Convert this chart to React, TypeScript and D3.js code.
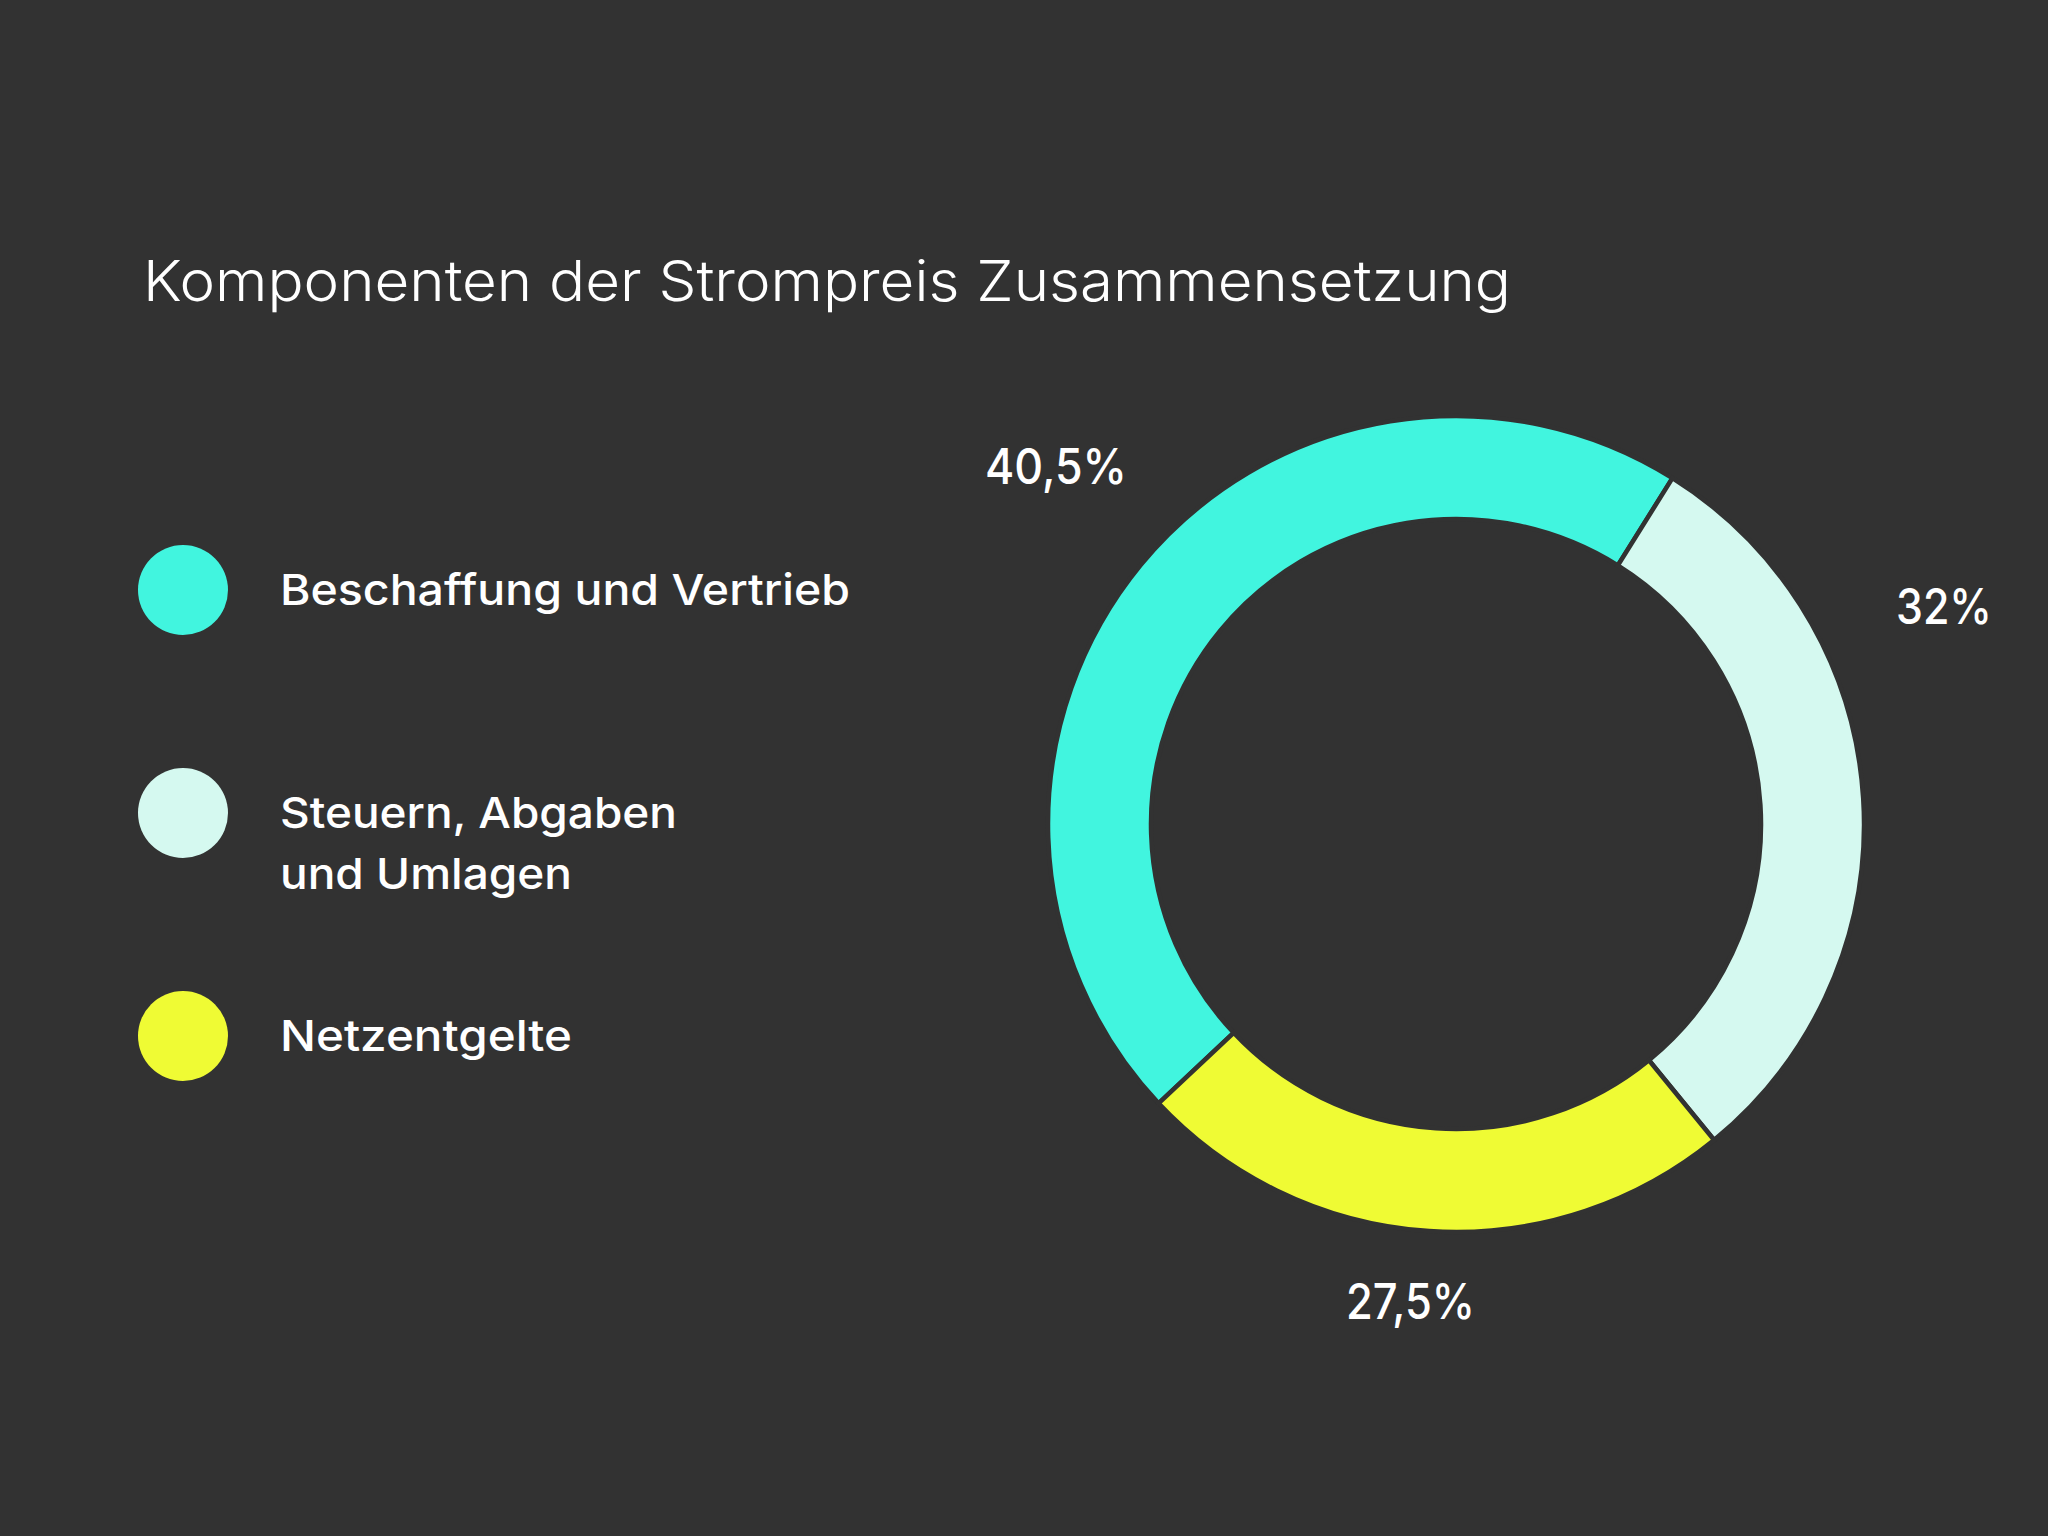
// donut chart: Komponenten der Strompreis Zusammensetzung
import * as d3 from 'd3';
import React, { useEffect, useRef } from 'react';

// legend categories (line breaks as in the original)
const categories = [
  ['Beschaffung und Vertrieb'],
  ['Steuern, Abgaben', 'und Umlagen'],
  ['Netzentgelte'],
];
// printed percentages
const percentLabels = ['40,5%', '32%', '27,5%'];
// share of the ring each slice takes in the picture
const arcShares = [45.9, 30.2, 23.9];
const colors = ['#41F5DF', '#D5F9F0', '#EFFB34'];

const BG = '#323232';
const W = 2048;
const H = 1536;

const App = () => {
  const svgRef = useRef<SVGSVGElement>(null);

  useEffect(() => {
    const svg = d3.select(svgRef.current);
    svg.selectAll('*').remove();

    svg.append('rect').attr('width', W).attr('height', H).attr('fill', BG);

    // title
    svg
      .append('text')
      .attr('x', 143)
      .attr('y', 301)
      .attr('fill', '#ffffff')
      .attr('font-family', 'Inter, sans-serif')
      .attr('font-weight', 330)
      .attr('font-size', 56)
      .attr('textLength', 1368)
      .attr('lengthAdjust', 'spacingAndGlyphs')
      .text('Komponenten der Strompreis Zusammensetzung');

    // legend
    const legendY = d3.scalePoint<number>().domain([0, 1, 2]).range([590, 1036]);
    // measured width of every legend line
    const legendWidths = [[570], [397, 292], [292]];
    const legend = svg
      .append('g')
      .selectAll('g')
      .data(categories)
      .enter()
      .append('g')
      .attr('transform', (d, i) => `translate(0, ${legendY(i)})`);

    legend
      .append('circle')
      .attr('cx', 183)
      .attr('cy', 0)
      .attr('r', 45)
      .attr('fill', (d, i) => colors[i]);

    legend.each(function (lines, i) {
      const g = d3.select(this);
      lines.forEach((line, j) => {
        g.append('text')
          .attr('x', 280)
          .attr('y', 15 + j * 61)
          .attr('fill', '#ffffff')
          .attr('font-family', 'Inter, sans-serif')
          .attr('font-weight', 550)
          .attr('font-size', 43)
          .attr('textLength', legendWidths[i][j])
          .attr('lengthAdjust', 'spacingAndGlyphs')
          .text(line);
      });
    });

    // donut
    const cx = 1456;
    const cy = 824;
    const start = (-133.2 * Math.PI) / 180;
    const pie = d3
      .pie<number>()
      .sort(null)
      .value((d) => d)
      .startAngle(start)
      .endAngle(start + 2 * Math.PI);
    const arc = d3.arc<d3.PieArcDatum<number>>().innerRadius(305).outerRadius(408);

    const ring = svg.append('g').attr('transform', `translate(${cx}, ${cy})`);
    ring
      .selectAll('path')
      .data(pie(arcShares))
      .enter()
      .append('path')
      .attr('d', arc)
      .attr('fill', (d, i) => colors[i])
      .attr('stroke', BG)
      .attr('stroke-width', 4.5);

    // percentage labels, placed by hand around the ring (left x, baseline y, width)
    const labelPos = [
      [985, 484, 142],
      [1896, 624, 96],
      [1346, 1319, 129],
    ];
    svg
      .append('g')
      .selectAll('text')
      .data(percentLabels)
      .enter()
      .append('text')
      .attr('x', (d, i) => labelPos[i][0])
      .attr('y', (d, i) => labelPos[i][1])
      .attr('textLength', (d, i) => labelPos[i][2])
      .attr('lengthAdjust', 'spacingAndGlyphs')
      .attr('fill', '#ffffff')
      .attr('font-family', 'Inter, sans-serif')
      .attr('font-weight', 550)
      .attr('font-size', 49)
      .text((d) => d);
  }, []);

  return (
    <div style={{ position: 'absolute', left: 0, top: 0 }}>
      <svg ref={svgRef} width={W} height={H} style={{ display: 'block' }}></svg>
    </div>
  );
};

export default App;
